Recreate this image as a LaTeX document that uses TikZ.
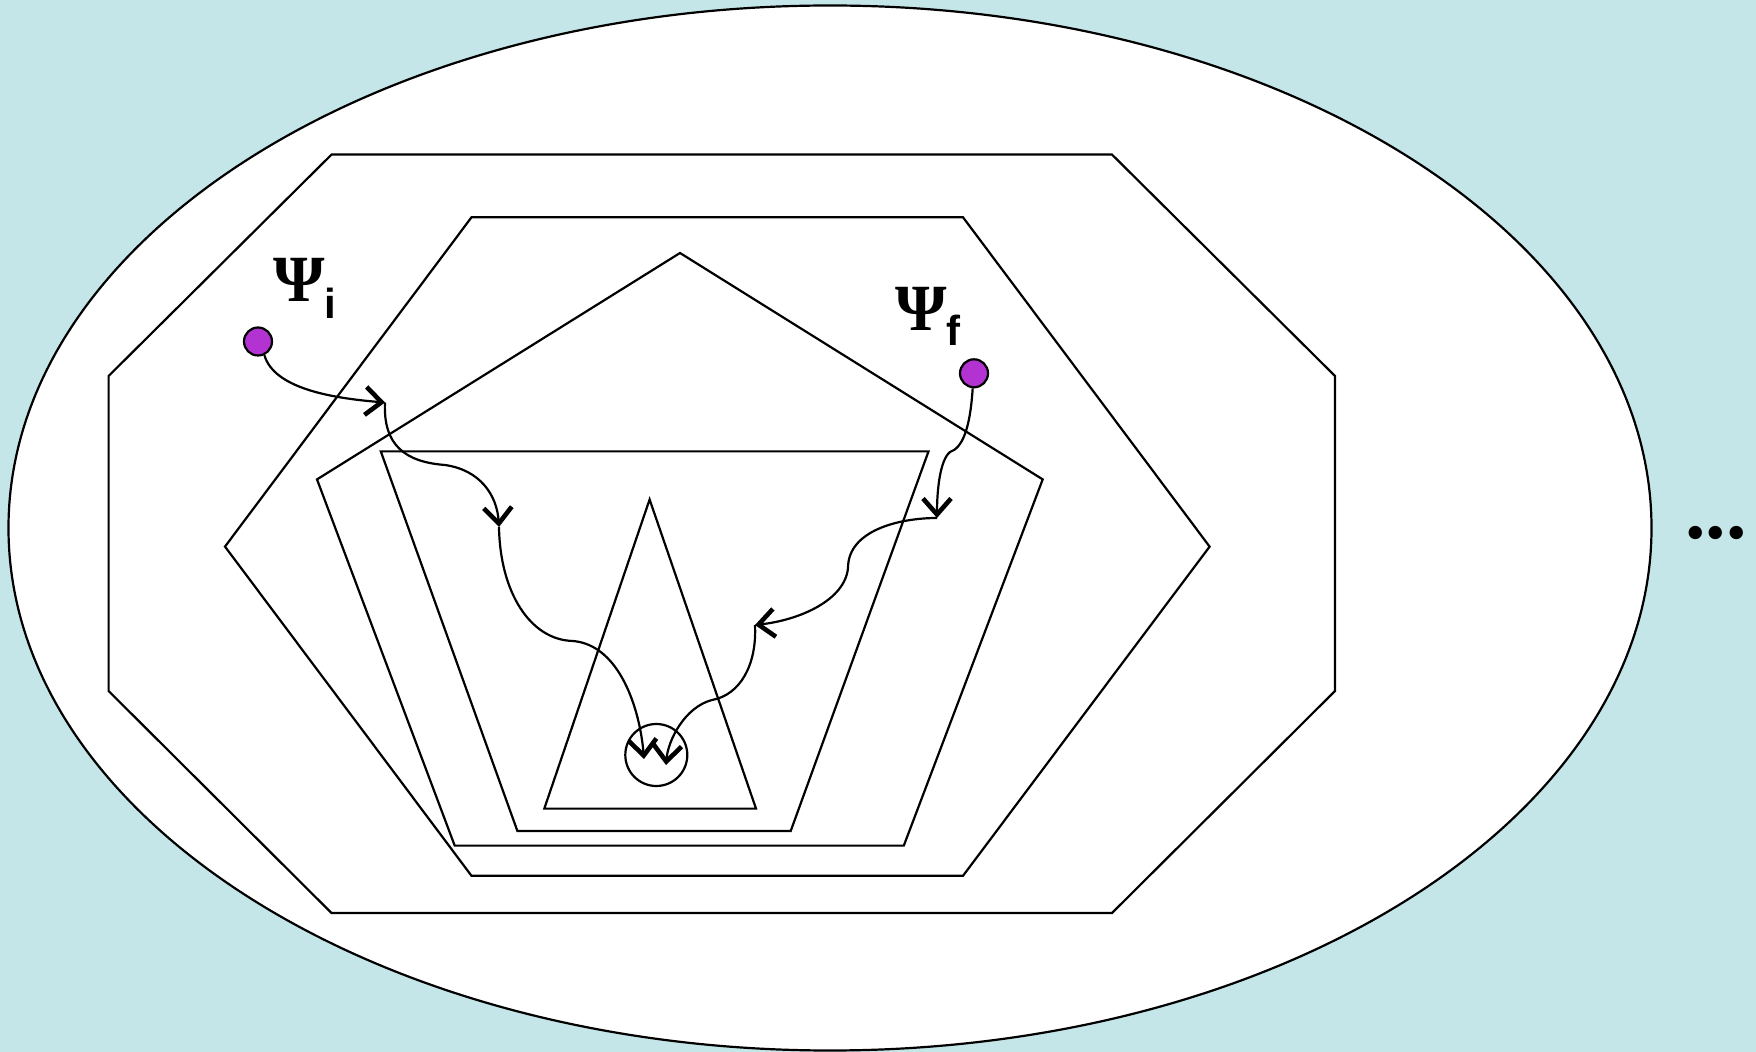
\documentclass[tikz,border=0pt]{standalone}
\usepackage{fontspec}
\newfontfamily\psiserif{Liberation Serif}
\newfontfamily\psisans{Liberation Sans}
\usetikzlibrary{arrows.meta}
\definecolor{bgcol}{RGB}{197,230,233}
\definecolor{dotcol}{RGB}{178,50,210}
\begin{document}
\begin{tikzpicture}[x=0.5pt,y=-0.5pt,
  outline/.style={draw=black,line width=1.1pt,line join=miter},
  wiggle/.style={draw=black,line width=1.1pt,-{Straight Barb[length=8pt,width=14pt,line width=2.3pt]}},
  state/.style={circle,draw=black,line width=1.1pt,fill=dotcol,minimum size=14pt,inner sep=0pt},
  lbl/.style={inner sep=0pt,anchor=base west}]
\useasboundingbox (0,0) rectangle (1756,1052);
\fill[bgcol] (0,0) rectangle (1756,1052);
% outer ellipse
\draw[outline,fill=white] (830,528) ellipse [x radius=821.5, y radius=522.5];
% octagon
\draw[outline] (331.5,154.6) -- (1112,154.6) -- (1335,376) -- (1335,691) -- (1112,913) -- (331.5,913) -- (108.6,691) -- (108.6,376) -- cycle;
% hexagon
\draw[outline] (471.5,217.3) -- (963,217.3) -- (1209.6,546.6) -- (963,875.8) -- (471.5,875.8) -- (225,546.6) -- cycle;
% pentagon
\draw[outline] (680,253) -- (1042.7,479.4) -- (903.8,845.6) -- (454.7,845.6) -- (317,479.4) -- cycle;
% trapezoid
\draw[outline] (380.8,451.4) -- (928.5,451.4) -- (790.7,831) -- (517.4,831) -- cycle;
% triangle
\draw[outline] (649.6,499.5) -- (756,808.6) -- (544.3,808.6) -- cycle;
% small circle
\draw[outline] (656.3,755) circle [radius=31];
% states
\node[state] (psii) at (258,341.5) {};
\node[state] (psif) at (974,373.3) {};
% labels
\node[lbl] (labi) at (273,301.7) {{\psiserif\fontsize{33}{40}\selectfont\bfseries Ψ}{\psisans\bfseries\fontsize{21}{25}\selectfont\raisebox{-8.2pt}{i}}};
\node[lbl] (labf) at (895,330.7) {{\psiserif\fontsize{33}{40}\selectfont\bfseries Ψ}{\psisans\bfseries\fontsize{21}{25}\selectfont\raisebox{-7.2pt}{f}}};
\node[lbl] (dots) at (1684.7,539) {\psiserif\bfseries\fontsize{41}{45}\selectfont ...};
% waypoints
\coordinate (a1) at (385,402.5);
\coordinate (m1) at (445,465);
\coordinate (a2) at (499,527);
\coordinate (m2) at (573,641);
\coordinate (a3) at (644,759);
\coordinate (m3) at (950,452);
\coordinate (b1) at (937,518);
\coordinate (m4) at (848,568);
\coordinate (b2) at (755,625);
\coordinate (m5) at (712,700);
\coordinate (a4) at (666,765);
% wiggly paths
\draw[wiggle] (psii.-65) .. controls (274,388) and (330,398) .. (a1);
\draw[wiggle] (a1) .. controls (383,445) and (405,462) .. (m1) .. controls (480,470) and (497,495) .. (a2);
\draw[wiggle] (a2) .. controls (500,592) and (530,640) .. (m2) .. controls (620,645) and (640,710) .. (a3);
\draw[wiggle] (psif.-95) .. controls (970,430) and (962,448) .. (m3) .. controls (940,460) and (937,490) .. (b1);
\draw[wiggle] (b1) .. controls (900,518) and (848,530) .. (m4) .. controls (845,600) and (800,620) .. (b2);
\draw[wiggle] (b2) .. controls (757,665) and (740,695) .. (m5) .. controls (685,707) and (668,740) .. (a4);
\end{tikzpicture}
\end{document}
